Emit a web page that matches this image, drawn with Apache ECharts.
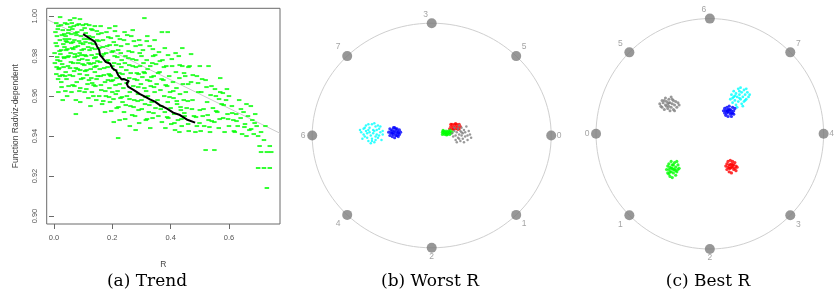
<!DOCTYPE html>
<html>
<head>
<meta charset="utf-8">
<script src="https://cdn.jsdelivr.net/npm/echarts@6/dist/echarts.min.js"></script>
<style>
html, body { margin: 0; padding: 0; background: #fff; }
#chart { width: 835px; height: 294px; }
</style>
</head>
<body>
<div id="chart"></div>
<script>
// ---- panel (a): trend ----
const xTickVals = [0, 0.2, 0.4, 0.6];
const yTickVals = [0.90, 0.92, 0.94, 0.96, 0.98, 1.00];

// fitted straight line (two end points read at the box edges)
const regLine = [[-0.025, 0.9984], [0.775, 0.9414]];

// black running trend
const trendLine = [
  [0.1, 0.991], [0.123, 0.9888], [0.14, 0.9872], [0.148, 0.9847], [0.155, 0.983], [0.158, 0.9805],
  [0.165, 0.9794], [0.171, 0.9788], [0.178, 0.977], [0.192, 0.9763], [0.201, 0.9738], [0.213, 0.9727],
  [0.22, 0.9705], [0.232, 0.9683], [0.24, 0.9685], [0.257, 0.9675], [0.249, 0.9664], [0.254, 0.9647],
  [0.274, 0.963], [0.295, 0.961], [0.312, 0.9597], [0.329, 0.9583], [0.346, 0.9572], [0.363, 0.9555],
  [0.386, 0.9538], [0.409, 0.9517], [0.432, 0.9505], [0.455, 0.9483], [0.484, 0.9467]
];

// green cloud, read band by band
const cloud = [
  [0.005,0.992],[0.01,0.985],[0.012,0.978],[0.008,0.971],[0.015,0.995],[0.02,0.988],[0.022,0.981],[0.018,0.974],
  [0.025,0.967],[0.03,0.993],[0.032,0.986],[0.035,0.979],[0.028,0.976],[0.038,0.97],[0.04,0.99],[0.042,0.983],
  [0.045,0.996],[0.048,0.975],[0.05,0.965],[0.03,0.958],[0.015,0.962],[0.045,0.987],[0.035,0.991],[0.025,0.983],
  [0.04,0.972],[0.05,0.98],[0.02,0.97],[0.01,0.99],[0.045,0.96],[0.05,0.993],
  [0.055,0.998],[0.06,0.991],[0.062,0.984],[0.058,0.977],[0.065,0.97],[0.068,0.995],[0.07,0.988],[0.072,0.981],
  [0.075,0.974],[0.078,0.967],[0.08,0.992],[0.082,0.985],[0.085,0.978],[0.088,0.971],[0.09,0.964],[0.092,0.99],
  [0.095,0.983],[0.098,0.976],[0.1,0.969],[0.06,0.962],[0.075,0.958],[0.085,0.996],[0.07,0.999],[0.09,0.957],
  [0.065,0.987],[0.08,0.98],[0.095,0.993],[0.1,0.986],[0.055,0.974],[0.09,0.973],[0.075,0.951],[0.07,0.965],
  [0.105,0.994],[0.108,0.987],[0.11,0.98],[0.112,0.973],[0.115,0.966],[0.118,0.959],[0.12,0.99],[0.122,0.983],
  [0.125,0.976],[0.128,0.969],[0.13,0.962],[0.132,0.993],[0.135,0.986],[0.138,0.979],[0.14,0.972],[0.142,0.965],
  [0.145,0.958],[0.148,0.988],[0.15,0.981],[0.11,0.996],[0.125,0.955],[0.14,0.995],[0.115,0.978],[0.13,0.984],
  [0.145,0.975],[0.12,0.968],[0.135,0.96],[0.15,0.97],[0.105,0.962],
  [0.152,0.991],[0.155,0.984],[0.158,0.977],[0.16,0.97],[0.162,0.963],[0.165,0.956],[0.168,0.988],[0.17,0.981],
  [0.172,0.974],[0.175,0.967],[0.178,0.96],[0.18,0.992],[0.182,0.985],[0.185,0.978],[0.188,0.971],[0.19,0.964],
  [0.192,0.957],[0.195,0.989],[0.198,0.982],[0.2,0.975],[0.16,0.995],[0.175,0.952],[0.19,0.994],[0.185,0.968],
  [0.165,0.98],[0.2,0.962],[0.155,0.96],[0.195,0.97],
  [0.202,0.968],[0.205,0.987],[0.208,0.98],[0.21,0.973],[0.212,0.961],[0.215,0.954],[0.218,0.99],[0.22,0.983],
  [0.222,0.976],[0.225,0.966],[0.228,0.959],[0.23,0.985],[0.232,0.978],[0.235,0.971],[0.238,0.964],[0.24,0.952],
  [0.242,0.992],[0.245,0.98],[0.248,0.973],[0.25,0.96],[0.21,0.995],[0.225,0.948],[0.24,0.988],[0.215,0.969],
  [0.235,0.957],[0.205,0.947],[0.22,0.939],
  [0.252,0.986],[0.255,0.979],[0.258,0.969],[0.26,0.962],[0.262,0.955],[0.265,0.99],[0.268,0.982],[0.27,0.975],
  [0.272,0.965],[0.275,0.958],[0.278,0.95],[0.28,0.985],[0.282,0.978],[0.285,0.968],[0.288,0.961],[0.29,0.953],
  [0.292,0.988],[0.295,0.975],[0.298,0.966],[0.3,0.958],[0.26,0.945],[0.28,0.943],[0.3,0.98],[0.27,0.993],[0.29,0.971],
  [0.305,0.983],[0.308,0.972],[0.31,0.964],[0.312,0.956],[0.315,0.948],[0.318,0.978],[0.32,0.968],[0.322,0.96],
  [0.325,0.952],[0.328,0.985],[0.33,0.975],[0.332,0.965],[0.335,0.957],[0.338,0.949],[0.34,0.98],[0.342,0.97],
  [0.345,0.962],[0.348,0.954],[0.35,0.976],[0.31,0.999],[0.33,0.944],[0.345,0.988],[0.32,0.99],
  [0.352,0.966],[0.355,0.958],[0.358,0.95],[0.36,0.982],[0.362,0.972],[0.365,0.963],[0.368,0.955],[0.37,0.947],
  [0.372,0.978],[0.375,0.968],[0.378,0.96],[0.38,0.952],[0.382,0.944],[0.385,0.975],[0.388,0.965],[0.39,0.957],
  [0.392,0.949],[0.395,0.97],[0.398,0.962],[0.4,0.954],[0.37,0.992],[0.39,0.992],[0.38,0.984],
  [0.402,0.946],[0.405,0.975],[0.408,0.967],[0.41,0.959],[0.412,0.951],[0.415,0.943],[0.418,0.972],[0.42,0.964],
  [0.422,0.956],[0.425,0.948],[0.428,0.98],[0.43,0.969],[0.432,0.961],[0.435,0.953],[0.438,0.945],[0.44,0.975],
  [0.442,0.966],[0.445,0.958],[0.448,0.95],[0.45,0.97],[0.44,0.984],[0.43,0.942],
  [0.452,0.962],[0.455,0.954],[0.46,0.946],[0.465,0.975],[0.47,0.967],[0.475,0.958],[0.48,0.95],[0.485,0.942],
  [0.49,0.97],[0.495,0.962],[0.5,0.953],[0.47,0.981],[0.49,0.945],[0.46,0.966],[0.5,0.975],
  [0.505,0.962],[0.51,0.95],[0.515,0.945],[0.52,0.968],[0.525,0.957],[0.53,0.948],[0.535,0.942],[0.54,0.965],
  [0.545,0.954],[0.55,0.947],[0.555,0.96],[0.56,0.952],[0.565,0.944],[0.57,0.962],[0.575,0.956],[0.58,0.949],
  [0.585,0.942],[0.59,0.958],[0.595,0.951],[0.6,0.945],[0.52,0.933],[0.55,0.933],[0.53,0.975],[0.57,0.969],[0.6,0.96],
  [0.61,0.955],[0.615,0.948],[0.62,0.942],[0.625,0.951],[0.63,0.945],[0.635,0.958],[0.64,0.949],[0.645,0.941],
  [0.65,0.952],[0.655,0.946],[0.66,0.94],[0.665,0.95],[0.67,0.943],[0.675,0.955],[0.68,0.948],[0.685,0.941],
  [0.69,0.951],[0.695,0.945],[0.7,0.94],[0.705,0.935],[0.71,0.942],[0.72,0.938],[0.73,0.932],[0.74,0.935],
  [0.71,0.932],[0.725,0.945],[0.745,0.932],[0.7,0.924],[0.72,0.924],[0.73,0.914],[0.74,0.924],[0.66,0.956]
];
// second pass over the denser parts of the cloud
const cloudDense = [
  [0.013,0.9935],[0.027,0.9905],[0.041,0.9875],[0.006,0.9865],[0.019,0.9825],[0.034,0.9795],[0.052,0.9885],[0.063,0.9935],
  [0.077,0.9905],[0.088,0.9815],[0.097,0.9785],[0.109,0.9915],[0.117,0.9845],[0.129,0.9805],[0.141,0.9835],[0.003,0.9765],
  [0.016,0.9735],[0.029,0.9705],[0.043,0.9685],[0.057,0.9815],[0.066,0.9765],[0.081,0.9735],[0.093,0.9685],[0.104,0.9755],
  [0.113,0.9705],[0.126,0.9735],[0.137,0.9765],[0.146,0.9685],[0.011,0.9795],[0.024,0.9955],[0.038,0.9965],[0.049,0.9915],
  [0.061,0.9965],[0.073,0.9845],[0.086,0.9875],[0.099,0.9955],[0.106,0.9805],[0.121,0.9955],[0.133,0.9895],[0.147,0.9925],
  [0.008,0.9965],[0.021,0.9775],[0.036,0.9845],[0.047,0.9795],[0.054,0.9705],[0.069,0.9725],[0.079,0.9955],[0.091,0.9865],
  [0.102,0.9835],[0.116,0.9885],[0.124,0.9865],[0.139,0.9745],[0.002,0.9815],[0.014,0.9685],[0.033,0.9745],[0.046,0.9835],
  [0.059,0.9865],[0.071,0.9795],[0.083,0.9765],[0.094,0.9805],[0.107,0.9725],[0.119,0.9765],[0.131,0.9665],[0.143,0.9795],
  [0.026,0.9645],[0.039,0.9625],[0.064,0.9655],[0.087,0.9625],[0.111,0.9635],[0.136,0.9655],[0.021,0.9995],[0.056,0.9945],
  [0.089,0.9985],[0.009,0.9745],[0.037,0.9885],[0.074,0.9915],[0.103,0.9885],[0.128,0.9935],[0.149,0.9775],[0.066,0.9835],
  [0.153,0.9875],[0.167,0.9845],[0.179,0.9815],[0.191,0.9855],[0.203,0.9825],[0.217,0.9795],[0.229,0.9815],[0.243,0.9765],
  [0.256,0.9825],[0.269,0.9785],[0.281,0.9745],[0.294,0.9815],[0.307,0.9765],[0.321,0.9735],[0.337,0.9765],[0.157,0.9735],
  [0.171,0.9705],[0.184,0.9745],[0.197,0.9675],[0.211,0.9655],[0.224,0.9715],[0.237,0.9685],[0.249,0.9665],[0.263,0.9715],
  [0.276,0.9685],[0.289,0.9645],[0.303,0.9695],[0.316,0.9625],[0.329,0.9675],[0.343,0.9645],[0.161,0.9655],[0.176,0.9625],
  [0.189,0.9595],[0.204,0.9585],[0.218,0.9625],[0.233,0.9595],[0.246,0.9555],[0.259,0.9585],[0.273,0.9545],[0.287,0.9575],
  [0.301,0.9535],[0.314,0.9595],[0.327,0.9555],[0.341,0.9515],[0.163,0.9915],[0.186,0.9895],[0.209,0.9925],[0.226,0.9885],
  [0.251,0.9905],[0.274,0.9875],[0.296,0.9855],[0.318,0.9875],[0.339,0.9835],[0.169,0.9575],[0.196,0.9525],[0.221,0.9545],
  [0.244,0.9485],[0.268,0.9505],[0.292,0.9465],[0.319,0.9485],[0.181,0.9775],[0.206,0.9765],[0.231,0.9745],[0.258,0.9755],
  [0.284,0.9715],[0.311,0.9715],[0.334,0.9695],[0.347,0.9805],[0.192,0.9705],[0.213,0.9855],
  [0.357,0.9715],[0.369,0.9685],[0.383,0.9655],[0.396,0.9595],[0.409,0.9625],[0.421,0.9575],[0.434,0.9545],[0.447,0.9515],
  [0.459,0.9575],[0.473,0.9535],[0.487,0.9495],[0.499,0.9465],[0.513,0.9535],[0.527,0.9505],[0.541,0.9475],[0.556,0.9525],
  [0.568,0.9485],[0.582,0.9555],[0.597,0.9485],[0.611,0.9515],[0.626,0.9475],[0.641,0.9535],[0.363,0.9775],[0.377,0.9745],
  [0.391,0.9805],[0.404,0.9785],[0.417,0.9815],[0.431,0.9755],[0.446,0.9715],[0.461,0.9745],[0.476,0.9705],[0.494,0.9665],
  [0.508,0.9685],[0.523,0.9645],[0.537,0.9605],[0.552,0.9635],[0.566,0.9585],[0.579,0.9615],[0.593,0.9635],[0.366,0.9535],
  [0.388,0.9495],[0.413,0.9465],[0.437,0.9485],[0.462,0.9425],[0.503,0.9425],[0.533,0.9445],[0.617,0.9425],[0.653,0.9445],
  [0.676,0.9435],[0.688,0.9465]
];

// ---- panels (b), (c): radviz ----
// anchors: right, upper-right, top, upper-left, left, lower-left, bottom, lower-right
const anchorPos = [[1, 0], [0.7071, 0.7071], [0, 1], [-0.7071, 0.7071], [-1, 0], [-0.7071, -0.7071], [0, -1], [0.7071, -0.7071]];
const worstLabels = ['0', '5', '3', '7', '6', '4', '2', '1'];
const bestLabels = ['4', '7', '6', '5', '0', '1', '2', '3'];

const worstCyan = [
  [-0.59,0.03],[-0.57,0.06],[-0.56,-0.01],[-0.55,0.09],[-0.54,0.02],[-0.53,-0.05],[-0.52,0.07],[-0.51,0.0],
  [-0.5,0.1],[-0.5,-0.03],[-0.49,0.05],[-0.48,-0.06],[-0.47,0.08],[-0.46,0.01],[-0.45,-0.02],[-0.44,0.06],
  [-0.43,0.03],[-0.42,-0.04],[-0.41,0.04],[-0.58,-0.03],[-0.55,0.04],[-0.53,0.1],[-0.51,-0.07],[-0.48,0.11],
  [-0.47,-0.01],[-0.45,0.09],[-0.52,0.03],[-0.49,0.02],[-0.46,0.05],[-0.54,-0.02],[-0.44,0.0],[-0.6,0.05],
  [-0.56,0.07],[-0.5,-0.05],[-0.48,0.04],[-0.43,0.08],[-0.57,0.01],[-0.53,0.05],[-0.47,-0.04],[-0.41,0.01]
];
const worstBlue = [
  [-0.36,0.03],[-0.35,0.0],[-0.35,0.06],[-0.34,0.02],[-0.33,-0.01],[-0.33,0.05],[-0.32,0.07],[-0.32,0.01],
  [-0.31,0.04],[-0.31,-0.02],[-0.3,0.02],[-0.3,0.06],[-0.29,0.0],[-0.29,0.04],[-0.28,0.03],[-0.28,-0.01],
  [-0.27,0.05],[-0.27,0.01],[-0.26,0.03],[-0.34,0.04],[-0.32,0.03],[-0.3,0.0],[-0.31,0.07],[-0.29,0.06],
  [-0.33,0.02],[-0.28,0.02]
];
const worstRed = [
  [0.15,0.06],[0.16,0.08],[0.17,0.1],[0.17,0.06],[0.18,0.08],[0.19,0.1],[0.19,0.06],[0.2,0.08],[0.21,0.1],
  [0.21,0.06],[0.22,0.08],[0.23,0.1],[0.23,0.06],[0.24,0.08],[0.16,0.1],[0.2,0.105],[0.18,0.055],[0.22,0.055]
];
const worstGreen = [
  [0.09,0.01],[0.09,0.03],[0.1,0.02],[0.1,0.04],[0.11,0.01],[0.11,0.03],[0.12,0.02],[0.12,0.04],[0.13,0.01],
  [0.13,0.03],[0.14,0.02],[0.14,0.04],[0.15,0.01],[0.15,0.03],[0.16,0.02],[0.17,0.03],[0.095,0.045],[0.125,0.005],[0.155,0.045]
];
const worstGray = [
  [0.17,0.02],[0.18,-0.01],[0.19,0.04],[0.2,0.0],[0.2,-0.04],[0.21,0.03],[0.22,0.06],[0.22,-0.02],[0.23,0.01],
  [0.24,0.04],[0.24,-0.05],[0.25,0.0],[0.25,0.07],[0.26,0.02],[0.26,-0.03],[0.27,0.05],[0.28,-0.01],[0.28,0.03],
  [0.29,0.08],[0.3,0.0],[0.3,-0.04],[0.31,0.04],[0.32,0.01],[0.33,-0.02],[0.21,-0.06],[0.23,0.09],[0.27,-0.06],
  [0.19,0.07],[0.25,0.03],[0.23,-0.03]
];

const bestGray = [
  [-0.44,0.26],[-0.42,0.23],[-0.42,0.29],[-0.41,0.27],[-0.4,0.21],[-0.39,0.25],[-0.39,0.31],[-0.38,0.28],
  [-0.37,0.22],[-0.37,0.26],[-0.36,0.3],[-0.36,0.24],[-0.35,0.2],[-0.35,0.27],[-0.34,0.32],[-0.34,0.23],
  [-0.33,0.26],[-0.32,0.29],[-0.32,0.21],[-0.31,0.25],[-0.3,0.28],[-0.29,0.23],[-0.28,0.27],[-0.38,0.24],
  [-0.36,0.27],[-0.4,0.29],[-0.33,0.3],[-0.31,0.2],[-0.27,0.25],[-0.43,0.24]
];
const bestCyan = [
  [0.18,0.3],[0.19,0.34],[0.2,0.27],[0.21,0.32],[0.21,0.37],[0.22,0.29],[0.23,0.35],[0.23,0.25],[0.24,0.32],
  [0.25,0.39],[0.25,0.28],[0.26,0.34],[0.27,0.3],[0.27,0.4],[0.28,0.26],[0.28,0.36],[0.29,0.32],[0.3,0.38],
  [0.3,0.28],[0.31,0.34],[0.32,0.3],[0.33,0.36],[0.34,0.32],[0.35,0.34],[0.24,0.23],[0.26,0.37],[0.22,0.33],
  [0.29,0.24],[0.32,0.39],[0.2,0.31],[0.26,0.31],[0.31,0.29]
];
const bestBlue = [
  [0.12,0.2],[0.13,0.18],[0.13,0.22],[0.14,0.16],[0.14,0.2],[0.15,0.23],[0.15,0.18],[0.16,0.21],[0.16,0.15],
  [0.17,0.19],[0.17,0.24],[0.18,0.17],[0.18,0.21],[0.19,0.2],[0.19,0.15],[0.2,0.23],[0.2,0.18],[0.21,0.2],
  [0.22,0.22],[0.15,0.2],[0.17,0.21],[0.19,0.18],[0.16,0.19],[0.21,0.17]
];
const bestGreen = [
  [-0.38,-0.31],[-0.37,-0.28],[-0.37,-0.34],[-0.36,-0.26],[-0.36,-0.31],[-0.35,-0.37],[-0.35,-0.29],[-0.34,-0.24],
  [-0.34,-0.33],[-0.33,-0.3],[-0.33,-0.38],[-0.32,-0.27],[-0.32,-0.34],[-0.31,-0.31],[-0.31,-0.25],[-0.3,-0.36],
  [-0.3,-0.29],[-0.29,-0.33],[-0.28,-0.27],[-0.28,-0.31],[-0.27,-0.3],[-0.34,-0.3],[-0.32,-0.31],[-0.3,-0.32],
  [-0.36,-0.35],[-0.29,-0.24],[-0.33,-0.27],[-0.35,-0.33]
];
const bestRed = [
  [0.14,-0.28],[0.15,-0.26],[0.15,-0.31],[0.16,-0.24],[0.16,-0.29],[0.17,-0.33],[0.17,-0.27],[0.18,-0.23],
  [0.18,-0.3],[0.19,-0.26],[0.19,-0.34],[0.2,-0.29],[0.2,-0.24],[0.21,-0.31],[0.21,-0.27],[0.22,-0.25],
  [0.22,-0.3],[0.23,-0.28],[0.24,-0.29],[0.17,-0.3],[0.19,-0.29],[0.2,-0.27],[0.18,-0.27],[0.23,-0.32]
];

const captions = ['(a) Trend', '(b) Worst R', '(c) Best R'];

// ---- layout ----
const chart = echarts.init(document.getElementById('chart'), null, { renderer: 'canvas' });

const COL = { cyan: '#00ffff', blue: '#0000ff', green: '#00ff00', red: '#ff0000', gray: '#808080' };
const tickFont = { fontFamily: 'Liberation Sans', fontSize: 7.5, color: '#555' };

// circle panels: centre and radii in px
const rings = [
  { cx: 431.7, cy: 135.5, rx: 119.5, ry: 112.3 },
  { cx: 712.7, cy: 133.8, rx: 116.4, ry: 115.2 }
];
const SPAN = 1.1;

const grids = [{ left: 46.7, top: 8.3, width: 233.3, height: 215.7, show: true, borderColor: '#6a6a6a', borderWidth: 1 }];
rings.forEach(r => {
  grids.push({ left: r.cx - r.rx * SPAN, top: r.cy - r.ry * SPAN, width: 2 * r.rx * SPAN, height: 2 * r.ry * SPAN, show: false });
});

const xAxes = [{
  gridIndex: 0, type: 'value', min: -0.025, max: 0.775,
  name: 'R', nameLocation: 'middle', nameGap: 36,
  nameTextStyle: { fontFamily: 'Liberation Sans', fontSize: 8.5, color: '#444' },
  axisLine: { show: false }, splitLine: { show: false },
  axisTick: { show: true, inside: false, length: 5, customValues: xTickVals, lineStyle: { color: '#6a6a6a' } },
  axisLabel: Object.assign({ customValues: xTickVals, margin: 10, formatter: v => v.toFixed(1) }, tickFont)
}];
const yAxes = [{
  gridIndex: 0, type: 'value', min: 0.896, max: 1.0039,
  name: 'Function Radviz-dependent', nameLocation: 'middle', nameGap: 27, nameRotate: 90,
  nameTextStyle: { fontFamily: 'Liberation Sans', fontSize: 8.5, color: '#444' },
  axisLine: { show: false }, splitLine: { show: false },
  axisTick: { show: true, inside: false, length: 5, customValues: yTickVals, lineStyle: { color: '#6a6a6a' } },
  axisLabel: Object.assign({ customValues: yTickVals, margin: 8, rotate: 90, formatter: v => v.toFixed(2) }, tickFont)
}];
[1, 2].forEach(g => {
  xAxes.push({ gridIndex: g, type: 'value', min: -SPAN, max: SPAN, show: false });
  yAxes.push({ gridIndex: g, type: 'value', min: -SPAN, max: SPAN, show: false });
});

function ringItem(params, api) {
  const c = api.coord([0, 0]);
  const s = api.size([1, 1]);
  return {
    type: 'ellipse',
    shape: { cx: c[0], cy: c[1], rx: s[0], ry: s[1] },
    style: { fill: 'none', stroke: '#cfcfcf', lineWidth: 1 }
  };
}

function labelOffset(p) {
  const dx = p[0] > 0.1 ? 8 : p[0] < -0.1 ? -9 : (p[1] > 0 ? -6 : 0);
  const dy = p[1] > 0.1 ? -9 : p[1] < -0.1 ? 9 : 0;
  return [dx, dy];
}

function radvizSeries(g, labels, clusters) {
  const out = [];
  out.push({ type: 'custom', xAxisIndex: g, yAxisIndex: g, data: [[0, 0]], renderItem: ringItem, silent: true, z: 1 });
  out.push({
    type: 'scatter', xAxisIndex: g, yAxisIndex: g, symbolSize: 10, z: 2,
    itemStyle: { color: '#7d7d7d' },
    data: anchorPos.map((p, i) => ({
      value: p,
      label: { show: true, formatter: labels[i], position: 'inside', offset: labelOffset(p), color: '#8c8c8c', fontSize: 8.5, fontFamily: 'Liberation Sans' }
    }))
  });
  clusters.forEach(c => {
    out.push({ type: 'scatter', xAxisIndex: g, yAxisIndex: g, symbolSize: c[2], z: 3, itemStyle: { color: c[1] }, data: c[0] });
  });
  return out;
}

const series = [
  { type: 'line', xAxisIndex: 0, yAxisIndex: 0, data: regLine, symbol: 'none', lineStyle: { color: '#cccccc', width: 1 }, z: 1 },
  { type: 'scatter', xAxisIndex: 0, yAxisIndex: 0, data: cloud.concat(cloudDense), symbol: 'rect', symbolSize: [4.5, 2], itemStyle: { color: COL.green }, z: 2 },
  { type: 'line', xAxisIndex: 0, yAxisIndex: 0, data: trendLine, symbol: 'none', lineStyle: { color: '#000', width: 2 }, z: 3 }
].concat(
  radvizSeries(1, worstLabels, [[worstCyan, COL.cyan, 2.5], [worstBlue, COL.blue, 3.2], [worstRed, COL.red, 3.2], [worstGreen, COL.green, 3.2], [worstGray, COL.gray, 2.5]]),
  radvizSeries(2, bestLabels, [[bestGray, COL.gray, 3], [bestCyan, COL.cyan, 2.8], [bestBlue, COL.blue, 3.2], [bestGreen, COL.green, 3.2], [bestRed, COL.red, 3.2]])
);

const captionX = [147, 430, 708];
const graphic = captions.map((t, i) => ({
  type: 'text', x: captionX[i], y: 282,
  style: { text: t, align: 'center', verticalAlign: 'middle', fontFamily: 'DejaVu Serif', fontSize: 17, fill: '#000' }
}));

chart.setOption({
  animation: false,
  backgroundColor: '#fff',
  grid: grids,
  xAxis: xAxes,
  yAxis: yAxes,
  series: series,
  graphic: graphic
});

window.addEventListener('resize', () => chart.resize());
</script>
</body>
</html>
